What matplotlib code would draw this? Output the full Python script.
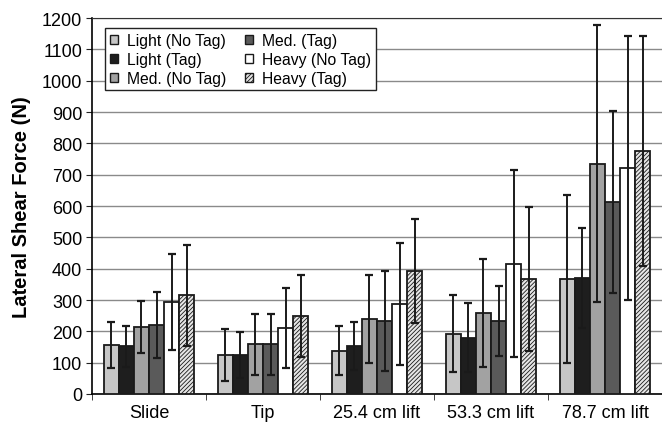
import numpy as np
import matplotlib
matplotlib.use('Agg')
import matplotlib.pyplot as plt

plt.rcParams['font.family'] = ['Liberation Sans', 'DejaVu Sans']

categories = ["Slide", "Tip", "25.4 cm lift", "53.3 cm lift", "78.7 cm lift"]
series = ["Light (No Tag)", "Light (Tag)", "Med. (No Tag)",
          "Med. (Tag)", "Heavy (No Tag)", "Heavy (Tag)"]

# mean values per series (rows) for each category (columns)
means = [
    [157, 125, 138, 192, 367],   # Light (No Tag)
    [152, 124, 154, 180, 370],   # Light (Tag)
    [213, 159, 240, 258, 735],   # Med. (No Tag)
    [220, 159, 233, 233, 613],   # Med. (Tag)
    [294, 210, 288, 416, 721],   # Heavy (No Tag)
    [315, 249, 392, 367, 777],   # Heavy (Tag)
]
# standard deviations
sds = [
    [74, 83, 78, 123, 268],
    [66, 74, 77, 110, 160],
    [83, 97, 141, 172, 442],
    [106, 97, 160, 113, 290],
    [152, 128, 195, 298, 421],
    [161, 132, 166, 230, 367],
]

face_colors = ["#c6c6c6", "#1e1e1e", "#a2a2a2", "#5a5a5a", "#ffffff", "#e6e6e6"]
hatches = [None, None, None, None, None, "////////"]

plt.rcParams['hatch.color'] = '#a8a8a8'
plt.rcParams['hatch.linewidth'] = 0.6

fig = plt.figure(figsize=(6.62, 4.31), dpi=100)
ax = fig.add_axes([92 / 662, 36 / 431, 570 / 662, 376 / 431])

x = np.arange(len(categories))
bw = 0.133

for i, name in enumerate(series):
    pos = x + (i - 2.5) * bw
    ax.bar(pos, means[i], width=bw, color=face_colors[i], edgecolor="#1a1a1a",
           linewidth=1.3, hatch=hatches[i], label=name, zorder=3)
    ax.errorbar(pos, means[i], yerr=sds[i], fmt="none", ecolor="#1a1a1a",
                elinewidth=1.4, capsize=3, capthick=1.6, zorder=4)

ax.set_xlim(-0.5, len(categories) - 0.5)
ax.set_ylim(0, 1200)
ax.set_yticks(np.arange(0, 1201, 100))
ax.set_xticks(x)
ax.set_xticklabels(categories, fontsize=13)
ax.set_xticks(np.arange(-0.5, len(categories) - 0.4, 1), minor=True)
ax.tick_params(axis="x", which="major", length=0, pad=7)
ax.tick_params(axis="x", which="minor", length=4, direction="out", color="#222")
ax.tick_params(axis="y", labelsize=13, length=4, direction="out", color="#222", pad=3)

ax.grid(axis="y", color="#8a8a8a", linewidth=1.0, zorder=0)
ax.set_axisbelow(True)
ax.spines["right"].set_visible(False)
ax.spines["top"].set_color("#333333")
ax.spines["left"].set_linewidth(1.2)
ax.spines["bottom"].set_linewidth(1.2)

ax.set_ylabel("Lateral Shear Force (N)", fontsize=14.5, fontweight="bold", labelpad=8)

leg = ax.legend(ncol=2, loc="upper left", bbox_to_anchor=(0.023, 0.973),
                borderaxespad=0,
                fontsize=11.3, frameon=True, fancybox=False, edgecolor="#222",
                handlelength=0.5, handleheight=0.5, handletextpad=0.6,
                columnspacing=1.2, labelspacing=0.25, borderpad=0.3)
leg.get_frame().set_linewidth(1.0)
leg.get_frame().set_alpha(1)
for h in leg.legend_handles:
    h.set_linewidth(1.0)

fig.savefig("out.png", dpi=100)
